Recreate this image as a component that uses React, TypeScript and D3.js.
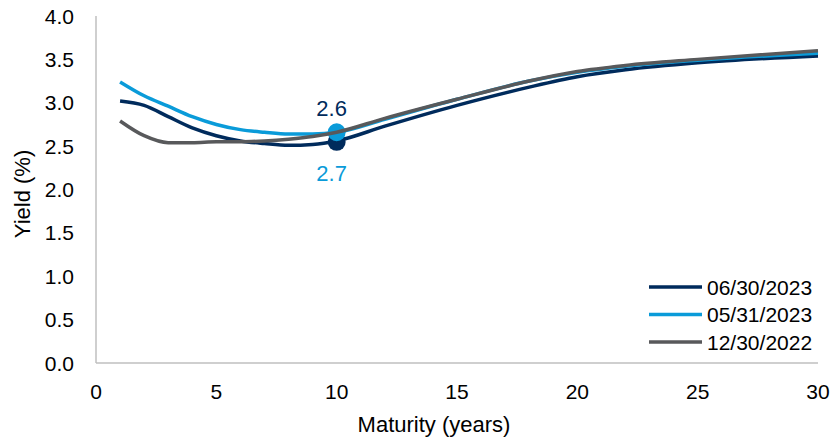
import React from "react";
import * as d3 from "d3";

const maturities = [1, 2, 3, 4, 5, 6, 7, 8, 9, 10, 12, 15, 18, 20, 22, 25, 30];
const seriesJun = [3.02, 2.97, 2.84, 2.71, 2.62, 2.56, 2.53, 2.51, 2.52, 2.56, 2.73, 2.97, 3.18, 3.3, 3.38, 3.46, 3.54];
const seriesMay = [3.24, 3.08, 2.96, 2.84, 2.75, 2.69, 2.66, 2.64, 2.64, 2.66, 2.81, 3.04, 3.25, 3.35, 3.42, 3.49, 3.57];
const seriesDec = [2.79, 2.62, 2.54, 2.54, 2.55, 2.55, 2.56, 2.58, 2.61, 2.66, 2.82, 3.04, 3.25, 3.36, 3.43, 3.5, 3.6];
const seriesNames = ["06/30/2023", "05/31/2023", "12/30/2022"];
const xTicks = [0, 5, 10, 15, 20, 25, 30];
const yTicks = [0, 0.5, 1, 1.5, 2, 2.5, 3, 3.5, 4];
const markerMaturity = 10;
const markerJun = 2.55;
const markerMay = 2.66;
const labelJun = "2.6";
const labelMay = "2.7";

const W = 835;
const H = 440;
const left = 96;
const right = 818;
const top = 16;
const bottom = 363;
const FONT = "Liberation Sans, Arial, sans-serif";
const FS = 21;

const colors = ["#002b5c", "#0a9bd9", "#58595b"];

export default function App() {
  const x = d3.scaleLinear().domain([0, 30]).range([left, right]);
  const y = d3.scaleLinear().domain([0, 4]).range([bottom, top]);
  const line = d3
    .line<number>()
    .x((_, i) => x(maturities[i]))
    .y((d) => y(d))
    .curve(d3.curveMonotoneX);

  return (
    <svg
      width={W}
      height={H}
      style={{ position: "absolute", left: 0, top: 0, background: "#fff" }}
      fontFamily={FONT}
    >
      <line x1={left} y1={top} x2={left} y2={bottom} stroke="#bfbfbf" strokeWidth={1.5} />
      <line x1={left} y1={bottom} x2={right} y2={bottom} stroke="#bfbfbf" strokeWidth={1.5} />
      {yTicks.map((t) => (
        <text key={t} x={74} y={y(t)} textAnchor="end" dominantBaseline="central" fontSize={FS} fill="#000">
          {t.toFixed(1)}
        </text>
      ))}
      {xTicks.map((t) => (
        <text key={t} x={x(t)} y={391} textAnchor="middle" dominantBaseline="central" fontSize={FS} fill="#000">
          {t}
        </text>
      ))}
      <text x={434} y={424} textAnchor="middle" dominantBaseline="central" fontSize={22}>
        Maturity (years)
      </text>
      <text
        transform={`translate(22,194) rotate(-90)`}
        textAnchor="middle"
        dominantBaseline="central"
        fontSize={22}
      >
        Yield (%)
      </text>

      <path d={line(seriesJun) || ""} fill="none" stroke={colors[0]} strokeWidth={3.5} />
      <circle cx={x(markerMaturity)} cy={y(markerJun)} r={9} fill={colors[0]} />
      <path d={line(seriesMay) || ""} fill="none" stroke={colors[1]} strokeWidth={3.5} />
      <circle cx={x(markerMaturity)} cy={y(markerMay)} r={9} fill={colors[1]} />
      <path d={line(seriesDec) || ""} fill="none" stroke={colors[2]} strokeWidth={3.5} />

      <text x={x(markerMaturity) - 5} y={108} textAnchor="middle" dominantBaseline="central" fontSize={22} fill={colors[0]}>
        {labelJun}
      </text>
      <text x={x(markerMaturity) - 5} y={173} textAnchor="middle" dominantBaseline="central" fontSize={22} fill={colors[1]}>
        {labelMay}
      </text>

      {seriesNames.map((n, i) => (
        <g key={n}>
          <line x1={649} x2={702} y1={287 + i * 27.5} y2={287 + i * 27.5} stroke={colors[i]} strokeWidth={3.5} />
          <text x={707} y={287 + i * 27.5} dominantBaseline="central" fontSize={FS}>
            {n}
          </text>
        </g>
      ))}
    </svg>
  );
}
